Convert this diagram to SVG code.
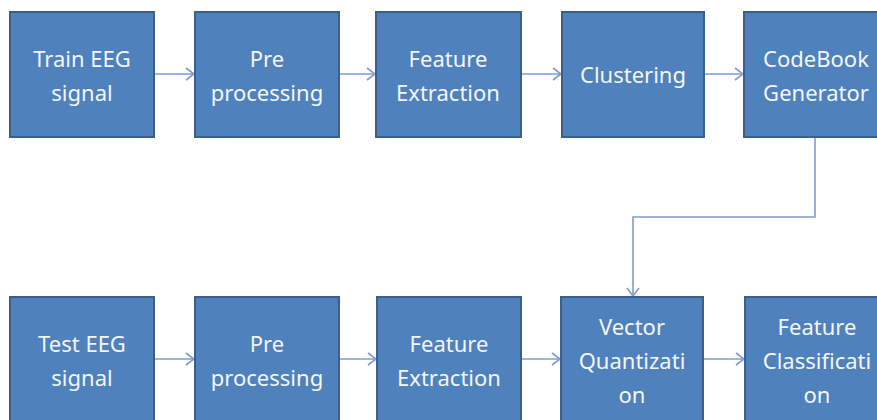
<svg xmlns="http://www.w3.org/2000/svg" width="877" height="420" viewBox="0 0 877 420">
<style>
.box{fill:#4f81bd;stroke:#3a5f8e;stroke-width:2}
.t{font-family:"Noto Sans","Open Sans",sans-serif;font-size:22px;fill:#f4f6fa;text-anchor:middle}
.c{fill:none;stroke:#7f9dcc;stroke-width:1.6}
</style>
<defs>
<marker id="ah" viewBox="0 0 10 14" refX="9" refY="7" markerWidth="10" markerHeight="14" markerUnits="userSpaceOnUse" orient="auto">
<path d="M1,1 L9,7 L1,13" fill="none" stroke="#7f9dcc" stroke-width="1.6"/>
</marker>
</defs>
<g id="connectors">
<line class="c" x1="155" y1="74" x2="194" y2="74" marker-end="url(#ah)"/>
<line class="c" x1="340" y1="74" x2="375" y2="74" marker-end="url(#ah)"/>
<line class="c" x1="522" y1="74" x2="561" y2="74" marker-end="url(#ah)"/>
<line class="c" x1="705" y1="74" x2="743" y2="74" marker-end="url(#ah)"/>
<polyline class="c" points="815,138 815,217 633,217 633,296" marker-end="url(#ah)"/>
<line class="c" x1="155" y1="359" x2="194" y2="359" marker-end="url(#ah)"/>
<line class="c" x1="340" y1="359" x2="376" y2="359" marker-end="url(#ah)"/>
<line class="c" x1="522" y1="359" x2="560" y2="359" marker-end="url(#ah)"/>
<line class="c" x1="704" y1="359" x2="744" y2="359" marker-end="url(#ah)"/>
</g>
<g id="train"><rect class="box" x="10" y="12" width="144" height="125"/><text class="t" x="82" y="67">Train EEG</text><text class="t" x="82" y="101">signal</text></g>
<g id="pre1"><rect class="box" x="195" y="12" width="144" height="125"/><text class="t" x="267" y="67">Pre</text><text class="t" x="267" y="101">processing</text></g>
<g id="fe1"><rect class="box" x="376" y="12" width="145" height="125"/><text class="t" x="448" y="67">Feature</text><text class="t" x="448" y="101">Extraction</text></g>
<g id="clust"><rect class="box" x="562" y="12" width="142" height="125"/><text class="t" x="633" y="83">Clustering</text></g>
<g id="codebook"><rect class="box" x="744" y="12" width="144" height="125"/><text class="t" x="816" y="67">CodeBook</text><text class="t" x="816" y="101">Generator</text></g>
<g id="test"><rect class="box" x="10" y="297" width="144" height="125"/><text class="t" x="82" y="352">Test EEG</text><text class="t" x="82" y="386">signal</text></g>
<g id="pre2"><rect class="box" x="195" y="297" width="144" height="125"/><text class="t" x="267" y="352">Pre</text><text class="t" x="267" y="386">processing</text></g>
<g id="fe2"><rect class="box" x="377" y="297" width="144" height="125"/><text class="t" x="449" y="352">Feature</text><text class="t" x="449" y="386">Extraction</text></g>
<g id="vq"><rect class="box" x="561" y="297" width="142" height="125"/><text class="t" x="632" y="335">Vector</text><text class="t" x="632" y="369">Quantizati</text><text class="t" x="632" y="403">on</text></g>
<g id="fc"><rect class="box" x="745" y="297" width="144" height="125"/><text class="t" x="817" y="335">Feature</text><text class="t" x="817" y="369">Classificati</text><text class="t" x="817" y="403">on</text></g>
</svg>
